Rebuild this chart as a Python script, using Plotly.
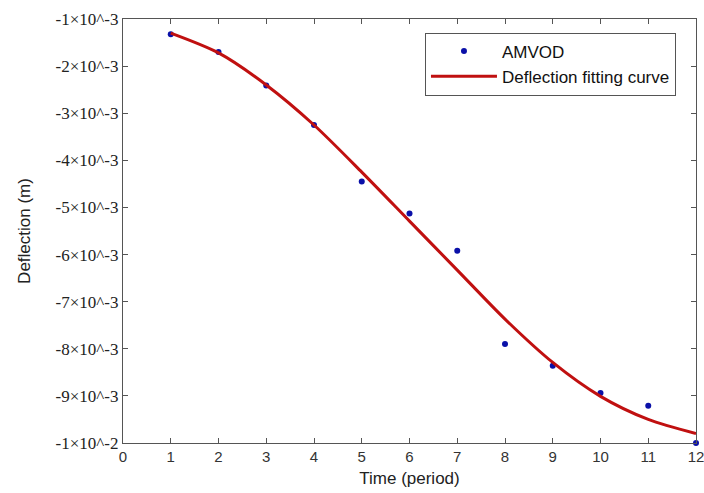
import plotly.graph_objects as go

# Measured data (AMVOD)
t_points = [1, 2, 3, 4, 5, 6, 7, 8, 9, 10, 11, 12]
defl_points = [-1.325e-3, -1.70e-3, -2.41e-3, -3.25e-3, -4.45e-3, -5.13e-3,
               -5.92e-3, -7.90e-3, -8.36e-3, -8.94e-3, -9.21e-3, -1.0e-2]

# Fitting curve values
t_curve = [1, 2, 3, 4, 5, 6, 7, 8, 9, 10, 11, 12]
defl_curve = [-1.30e-3, -1.72e-3, -2.40e-3, -3.25e-3, -4.25e-3, -5.29e-3,
              -6.33e-3, -7.37e-3, -8.29e-3, -9.01e-3, -9.50e-3, -9.80e-3]

y_tickvals = [-1e-3, -2e-3, -3e-3, -4e-3, -5e-3, -6e-3, -7e-3, -8e-3, -9e-3, -1e-2]
y_ticktext = ["-1×10^-3", "-2×10^-3", "-3×10^-3", "-4×10^-3", "-5×10^-3",
              "-6×10^-3", "-7×10^-3", "-8×10^-3", "-9×10^-3", "-1×10^-2"]
x_tickvals = list(range(0, 13))

fig = go.Figure()
fig.add_trace(go.Scatter(
    x=t_points, y=defl_points, mode="markers", name="AMVOD",
    marker=dict(color="#0a10a8", size=6), cliponaxis=False))
fig.add_trace(go.Scatter(
    x=t_curve, y=defl_curve, mode="lines", name="Deflection fitting curve",
    line=dict(color="#c01010", width=3, shape="spline", smoothing=0.8)))

axis_common = dict(showline=True, linecolor="#555555", linewidth=1.2,
                   mirror="ticks", ticks="inside", ticklen=5, tickcolor="#555555",
                   showgrid=False, zeroline=False, automargin=False)

fig.update_layout(
    width=704, height=493,
    margin=dict(l=123, r=8, t=19, b=50),
    paper_bgcolor="white", plot_bgcolor="white",
    xaxis=dict(range=[0, 12], tickvals=x_tickvals, ticklabeloverflow="allow",
               title=dict(text="Time (period)", font=dict(family="Liberation Sans", size=17, color="#222"), standoff=8),
               tickfont=dict(family="Liberation Sans", size=15, color="#333"),
               **axis_common),
    yaxis=dict(range=[-1e-2, -1e-3], tickvals=y_tickvals, ticktext=y_ticktext,
               title=dict(text="Deflection (m)", font=dict(family="Liberation Sans", size=17, color="#222"), standoff=20),
               tickfont=dict(family="Liberation Serif", size=17, color="#222"),
               **axis_common),
    legend=dict(x=0.527, y=0.968, xanchor="left", yanchor="top",
                bordercolor="#555555", borderwidth=1, bgcolor="white",
                font=dict(family="Liberation Sans", size=17, color="#111"),
                itemwidth=66, tracegroupgap=0),
    showlegend=True,
)

fig.write_html("out.html")
